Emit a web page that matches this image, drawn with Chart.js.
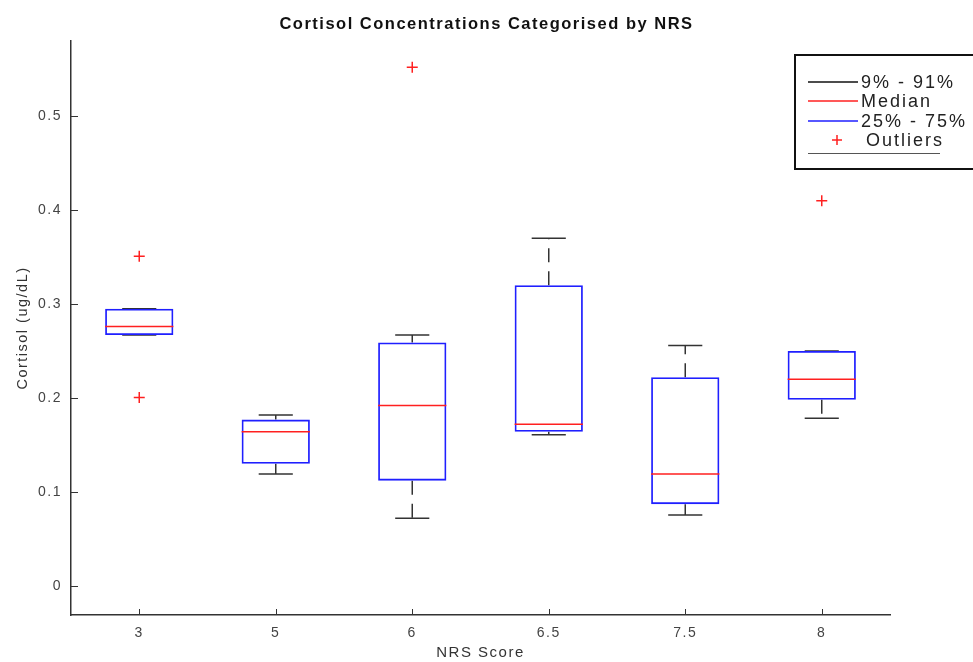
<!DOCTYPE html>
<html>
<head>
<meta charset="utf-8">
<script src="https://cdn.jsdelivr.net/npm/chart.js@4/dist/chart.umd.min.js"></script>
<style>
  html, body { margin: 0; padding: 0; background: #ffffff; }
  #wrap { width: 973px; height: 662px; }
</style>
</head>
<body>
<div id="wrap"><canvas id="c" width="973" height="662"></canvas></div>
<script>
// ---- data ----
const categories   = ['3', '5', '6', '6.5', '7.5', '8'];
const q1           = [0.267, 0.130, 0.112, 0.164, 0.087, 0.198];
const q3           = [0.295, 0.177, 0.259, 0.320, 0.222, 0.250];
const median       = [0.276, 0.164, 0.192, 0.172, 0.119, 0.220];
const lowerWhisker = [0.267, 0.119, 0.072, 0.161, 0.0755, 0.1785];
const upperWhisker = [0.295, 0.182, 0.267, 0.370, 0.256, 0.250];
const outlierCats  = ['3', '3', '6', '8'];
const outlierVals  = [0.351, 0.2006, 0.552, 0.410];
const yTickValues  = [0, 0.1, 0.2, 0.3, 0.4, 0.5];
const yMin = -0.031, yMax = 0.58;
const legendLabels = ['9% - 91%', 'Median', '25% - 75%', 'Outliers'];
const titleText = 'Cortisol Concentrations Categorised by NRS';
const xTitle = 'NRS Score';
const yTitle = 'Cortisol (ug/dL)';

// ---- styling ----
const FONT = "'Liberation Sans', Arial, Helvetica, sans-serif";
const BLUE = '#1f1fff', RED = '#ff2020', BLACK = '#333333';
const BOX_HALF = 0.25, CAP_HALF = 0.125;
const pos = i => i + 1; // coordinate of category i on the hidden linear axis

function segs(fn) {
  const pts = [];
  categories.forEach((c, i) => {
    fn(i).forEach(s => { pts.push(s[0], s[1], { x: pos(i), y: null }); });
  });
  return pts;
}
const medianPts = segs(i => [[{ x: pos(i) - BOX_HALF, y: median[i] }, { x: pos(i) + BOX_HALF, y: median[i] }]]);
const whiskerPts = segs(i => [
  [{ x: pos(i), y: q3[i] }, { x: pos(i), y: upperWhisker[i] }],
  [{ x: pos(i), y: q1[i] }, { x: pos(i), y: lowerWhisker[i] }]
]);
const capPts = segs(i => [
  [{ x: pos(i) - CAP_HALF, y: upperWhisker[i] }, { x: pos(i) + CAP_HALF, y: upperWhisker[i] }],
  [{ x: pos(i) - CAP_HALF, y: lowerWhisker[i] }, { x: pos(i) + CAP_HALF, y: lowerWhisker[i] }]
]);
const outlierPts = outlierVals.map((v, k) => ({ x: pos(categories.indexOf(outlierCats[k])), y: v }));

const spacingPlugin = {
  id: 'spacing',
  beforeLayout(chart) { chart.ctx.letterSpacing = '1.5px'; },
  beforeDraw(chart) { chart.ctx.letterSpacing = '1.5px'; }
};

const decorPlugin = {
  id: 'decor',
  afterDraw(chart) {
    const { ctx, chartArea: { left, bottom }, scales: { x, y } } = chart;
    ctx.save();
    // inward tick marks
    ctx.strokeStyle = BLACK; ctx.lineWidth = 1;
    ctx.beginPath();
    y.ticks.forEach(t => {
      const py = Math.round(y.getPixelForValue(t.value)) + 0.5;
      ctx.moveTo(left, py); ctx.lineTo(left + 7, py);
    });
    x.ticks.forEach((t, i) => {
      const px = Math.round(x.getPixelForTick(i)) + 0.5;
      ctx.moveTo(px, bottom); ctx.lineTo(px, bottom - 6);
    });
    ctx.stroke();

    // legend
    const lx = 795, ly = 55, lw = 200, lh = 114;
    ctx.fillStyle = '#ffffff';
    ctx.fillRect(lx, ly, lw, lh);
    ctx.strokeStyle = '#111'; ctx.lineWidth = 2;
    ctx.strokeRect(lx, ly, lw, lh);
    const rows = [82, 101, 121, 140];
    const colors = ['#111111', RED, BLUE];
    ctx.lineWidth = 1.5;
    colors.forEach((c, k) => {
      ctx.strokeStyle = c;
      ctx.beginPath(); ctx.moveTo(808, rows[k]); ctx.lineTo(858, rows[k]); ctx.stroke();
    });
    // outlier marker
    ctx.strokeStyle = RED;
    ctx.beginPath();
    ctx.moveTo(832, rows[3]); ctx.lineTo(842, rows[3]);
    ctx.moveTo(837, rows[3] - 5); ctx.lineTo(837, rows[3] + 5);
    ctx.stroke();
    // underline
    ctx.strokeStyle = '#555'; ctx.lineWidth = 1;
    ctx.beginPath(); ctx.moveTo(808, 153.5); ctx.lineTo(940, 153.5); ctx.stroke();
    // texts
    ctx.letterSpacing = '2px';
    ctx.fillStyle = '#222';
    ctx.font = '18px ' + FONT;
    ctx.textBaseline = 'middle';
    ctx.textAlign = 'left';
    legendLabels.forEach((t, k) => {
      ctx.fillText(t, k === 3 ? 866 : 861, rows[k] + 1);
    });
    ctx.restore();
  }
};

new Chart(document.getElementById('c'), {
  type: 'bar',
  data: {
    labels: categories,
    datasets: [
      {
        type: 'line', label: 'Median', data: medianPts, xAxisID: 'x2', yAxisID: 'y',
        borderColor: RED, borderWidth: 1.5, pointRadius: 0, spanGaps: false, fill: false, order: 0
      },
      {
        type: 'scatter', label: 'Outliers', data: outlierPts, xAxisID: 'x2', yAxisID: 'y',
        pointStyle: 'cross', pointRadius: 5.5, borderColor: RED, borderWidth: 1.5, showLine: false, order: 0
      },
      {
        type: 'bar', label: '25% - 75%', data: categories.map((c, i) => [q1[i], q3[i]]),
        xAxisID: 'x', yAxisID: 'y', grouped: false,
        backgroundColor: 'rgba(0,0,0,0)', borderColor: BLUE, borderWidth: 1.8, borderSkipped: false,
        categoryPercentage: 1, barPercentage: 2 * BOX_HALF, order: 1
      },
      {
        type: 'line', label: 'Whiskers', data: whiskerPts, xAxisID: 'x2', yAxisID: 'y',
        borderColor: BLACK, borderWidth: 1.5, borderDash: [14, 9], pointRadius: 0, spanGaps: false, fill: false, order: 2
      },
      {
        type: 'line', label: '9% - 91%', data: capPts, xAxisID: 'x2', yAxisID: 'y',
        borderColor: BLACK, borderWidth: 1.5, pointRadius: 0, spanGaps: false, fill: false, order: 3
      }
    ]
  },
  options: {
    responsive: false,
    animation: false,
    devicePixelRatio: 1,
    events: [],
    layout: { padding: 0 },
    plugins: {
      legend: { display: false },
      tooltip: { enabled: false },
      title: {
        display: true, text: titleText, color: '#111',
        font: { family: FONT, size: 16.5, weight: 'bold' },
        padding: { top: 15, bottom: 6.2 }
      }
    },
    scales: {
      x: {
        type: 'category', offset: true,
        grid: { display: false, drawTicks: false },
        border: { display: true, color: BLACK, width: 1.5 },
        ticks: { color: '#444', font: { family: FONT, size: 14 }, padding: 10, maxRotation: 0, autoSkip: false },
        title: { display: true, text: xTitle, color: '#333', font: { family: FONT, size: 15 }, padding: { top: 0, bottom: 0 } },
        afterFit: s => { s.height = 47; }
      },
      x2: { type: 'linear', display: false, offset: false, min: 0.5, max: 6.5, grid: { offset: false } },
      y: {
        type: 'linear', min: yMin, max: yMax,
        afterBuildTicks: s => { s.ticks = yTickValues.map(v => ({ value: v })); },
        grid: { display: false, drawTicks: false },
        border: { display: true, color: BLACK, width: 1.5 },
        ticks: { color: '#444', font: { family: FONT, size: 14 }, padding: 9,
                 callback: v => String(+Number(v).toFixed(2)) },
        title: { display: true, text: yTitle, color: '#333', font: { family: FONT, size: 14.5 }, padding: { top: 14.3, bottom: 0 } },
        afterFit: s => { s.width = 71; }
      },
      yR: {
        type: 'linear', position: 'right', display: true,
        grid: { display: false, drawTicks: false },
        border: { display: false },
        ticks: { display: false },
        afterFit: s => { s.width = 83; }
      }
    }
  },
  plugins: [spacingPlugin, decorPlugin]
});
</script>
</body>
</html>
